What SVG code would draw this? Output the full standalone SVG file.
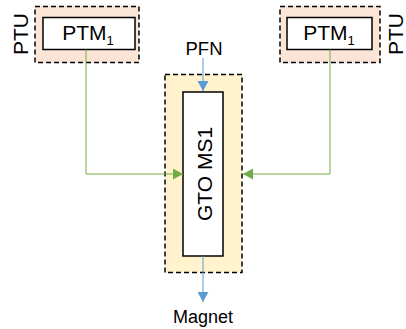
<svg xmlns="http://www.w3.org/2000/svg" width="406" height="329" viewBox="0 0 406 329">
<style>
.dash{stroke:#000;stroke-width:1.5;stroke-dasharray:5,3}
.box{fill:#fff;stroke:#000;stroke-width:1.5}
.t{font-family:"Liberation Sans",Arial,sans-serif;fill:#000}
.g{stroke:#70AD47;stroke-width:1;fill:none}
.b{stroke:#5B9BD5;stroke-width:1;fill:none}
</style>
<defs>
<marker id="ag" viewBox="0 0 10 11" refX="10" refY="5.5" markerWidth="10" markerHeight="11" markerUnits="userSpaceOnUse" orient="auto"><path d="M0,0L10,5.5L0,11z" fill="#70AD47"/></marker>
<marker id="ab" viewBox="0 0 10 11" refX="10" refY="5.5" markerWidth="10" markerHeight="11" markerUnits="userSpaceOnUse" orient="auto"><path d="M0,0L10,5.5L0,11z" fill="#5B9BD5"/></marker>
</defs>
<g id="ptu-left">
<rect x="35" y="6.5" width="104" height="56" fill="#FBE5D6" class="dash"/>
<rect x="43" y="17.5" width="92" height="32" class="box"/>
<text class="t" x="88" y="40" font-size="21" text-anchor="middle">PTM<tspan font-size="13" dy="5">1</tspan></text>
<text class="t" transform="translate(27.5,34) rotate(-90)" font-size="21" text-anchor="middle">PTU</text>
</g>
<g id="ptu-right">
<rect x="280" y="6.5" width="100" height="56" fill="#FBE5D6" class="dash"/>
<rect x="287" y="17.5" width="85" height="32" class="box"/>
<text class="t" x="329" y="40" font-size="21" text-anchor="middle">PTM<tspan font-size="13" dy="5">1</tspan></text>
<text class="t" transform="translate(402.5,34) rotate(-90)" font-size="21" text-anchor="middle">PTU</text>
</g>
<g id="gto">
<rect x="165" y="74.5" width="77" height="198" fill="#FFF2CC" class="dash"/>
<rect x="183" y="92" width="40" height="164" class="box"/>
<text class="t" transform="translate(211.5,174) rotate(-90)" font-size="21" text-anchor="middle">GTO MS1</text>
</g>
<g id="pfn"><text class="t" x="204" y="55" font-size="18.5" text-anchor="middle">PFN</text></g>
<g id="magnet"><text class="t" x="203" y="323" font-size="18" text-anchor="middle">Magnet</text></g>
<g id="connectors">
<path class="g" d="M86,49.5V174H183" marker-end="url(#ag)"/>
<path class="g" d="M330,49.5V174H243" marker-end="url(#ag)"/>
<path class="b" d="M203,58V91" marker-end="url(#ab)"/>
<path class="b" d="M203,256V302" marker-end="url(#ab)"/>
</g>
</svg>
